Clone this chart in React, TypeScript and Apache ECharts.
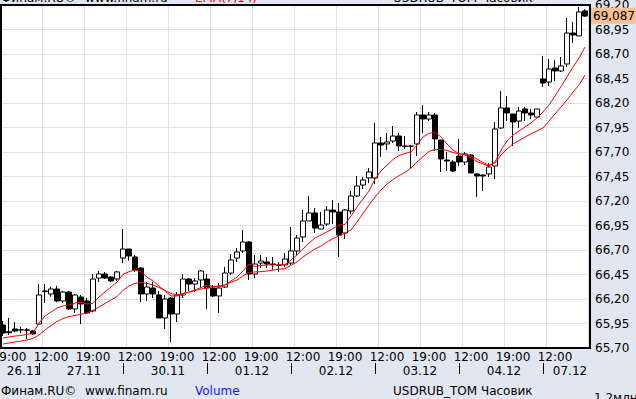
import React, { useEffect, useRef } from "react";
import * as echarts from "echarts";

// ---- categories (hourly candles, MOEX session 10:00-23:00) ----
const dayDates = ["26.11", "27.11", "30.11", "01.12", "02.12", "03.12", "04.12", "07.12"];
const dayFirstHour = [18, 10, 10, 10, 10, 10, 10, 10];
const dayLastHour = [23, 23, 23, 23, 23, 23, 23, 17];
const timeLabels = ["12:00", "19:00"];

// ---- price axis tick labels ----
const yTickLabels = [
  "65,70", "65,95", "66,20", "66,45", "66,70", "66,95", "67,20", "67,45",
  "67,70", "67,95", "68,20", "68,45", "68,70", "68,95", "69,20",
];
const yMin = 65.7;
const yMax = 69.2;

// ---- OHLC ----
const opens = [
  65.935, 65.866, 65.894, 65.886, 65.884, 65.874, 65.945, 66.277, 66.251, 66.302,
  66.180, 66.271, 66.098, 66.220, 66.180, 66.078, 66.414, 66.455, 66.424, 66.404,
  66.618, 66.710, 66.629, 66.516, 66.251, 66.312, 66.241, 66.006, 66.210, 66.047,
  66.241, 66.404, 66.353, 66.394, 66.404, 66.312, 66.231, 66.322, 66.465, 66.618,
  66.690, 66.782, 66.455, 66.567, 66.578, 66.557, 66.547, 66.547, 66.567, 66.690,
  66.833, 66.996, 67.078, 66.914, 66.965, 67.108, 67.088, 66.873, 67.098, 67.251,
  67.363, 67.435, 67.435, 67.792, 67.782, 67.812, 67.863, 67.761, 67.761, 67.782,
  68.078, 68.037, 68.078, 67.822, 67.618, 67.598, 67.659, 67.598, 67.669, 67.476,
  67.465, 67.476, 67.557, 67.945, 68.149, 68.088, 68.016, 68.139, 68.098, 68.057,
  68.445, 68.414, 68.557, 68.527, 68.598, 68.914, 68.884, 69.139,
];
const closes = [
  65.853, 65.856, 65.873, 65.884, 65.882, 65.843, 66.241, 66.282, 66.302, 66.180,
  66.271, 66.098, 66.241, 66.149, 66.057, 66.404, 66.455, 66.414, 66.384, 66.476,
  66.710, 66.639, 66.496, 66.251, 66.322, 66.251, 66.006, 66.200, 66.047, 66.241,
  66.404, 66.353, 66.384, 66.486, 66.312, 66.231, 66.312, 66.465, 66.598, 66.680,
  66.782, 66.455, 66.557, 66.588, 66.557, 66.552, 66.545, 66.608, 66.690, 66.822,
  66.996, 67.078, 66.924, 66.955, 67.108, 67.088, 66.853, 67.108, 67.251, 67.353,
  67.414, 67.496, 67.792, 67.771, 67.802, 67.863, 67.761, 67.758, 67.759, 68.078,
  68.037, 68.078, 67.833, 67.629, 67.608, 67.506, 67.598, 67.680, 67.486, 67.455,
  67.455, 67.547, 67.935, 68.149, 68.098, 68.006, 68.118, 68.098, 68.078, 68.139,
  68.404, 68.547, 68.527, 68.578, 68.914, 68.894, 69.129, 69.087,
];
const highs = [
  65.976, 66.006, 65.965, 65.917, 65.904, 65.884, 66.353, 66.353, 66.326, 66.336,
  66.282, 66.282, 66.251, 66.241, 66.210, 66.455, 66.486, 66.476, 66.435, 66.486,
  66.914, 66.710, 66.649, 66.527, 66.373, 66.373, 66.282, 66.241, 66.220, 66.271,
  66.455, 66.414, 66.414, 66.496, 66.455, 66.343, 66.363, 66.527, 66.659, 66.720,
  66.904, 66.792, 66.649, 66.649, 66.629, 66.629, 66.578, 66.669, 66.935, 66.853,
  67.108, 67.251, 67.129, 67.088, 67.149, 67.210, 67.180, 67.118, 67.302, 67.455,
  67.445, 67.537, 67.996, 67.853, 67.894, 67.965, 67.894, 67.863, 67.771, 68.108,
  68.180, 68.108, 68.098, 67.822, 67.700, 67.618, 67.833, 67.700, 67.680, 67.486,
  67.470, 67.588, 68.006, 68.322, 68.271, 68.088, 68.159, 68.159, 68.139, 68.139,
  68.680, 68.649, 68.639, 68.669, 69.067, 69.027, 69.180, 69.159,
];
const lows = [
  65.822, 65.833, 65.860, 65.850, 65.792, 65.833, 65.935, 66.159, 66.223, 66.166,
  66.159, 66.088, 66.057, 65.945, 66.047, 66.067, 66.373, 66.404, 66.373, 66.384,
  66.567, 66.592, 66.476, 66.169, 66.180, 66.210, 66.006, 65.894, 65.761, 65.965,
  66.210, 66.282, 66.271, 66.312, 66.098, 66.220, 66.057, 66.312, 66.445, 66.578,
  66.669, 66.394, 66.414, 66.516, 66.516, 66.496, 66.476, 66.527, 66.547, 66.649,
  66.782, 66.996, 66.873, 66.914, 66.945, 66.965, 66.629, 66.812, 67.067, 67.241,
  67.322, 67.384, 67.373, 67.649, 67.720, 67.792, 67.710, 67.730, 67.527, 67.659,
  67.894, 68.016, 67.710, 67.496, 67.506, 67.496, 67.557, 67.567, 67.486, 67.241,
  67.302, 67.445, 67.424, 67.935, 68.016, 67.761, 67.945, 68.016, 68.037, 68.057,
  68.363, 68.373, 68.424, 68.516, 68.567, 68.812, 68.884, 69.078,
];

// ---- moving averages ----
const maFast = [
  65.802, 65.812, 65.822, 65.828, 65.838, 65.853, 65.955, 66.027, 66.067, 66.108,
  66.129, 66.139, 66.159, 66.166, 66.149, 66.156, 66.220, 66.271, 66.322, 66.373,
  66.452, 66.479, 66.496, 66.476, 66.424, 66.384, 66.333, 66.282, 66.231, 66.231,
  66.251, 66.271, 66.292, 66.317, 66.343, 66.328, 66.322, 66.343, 66.384, 66.424,
  66.486, 66.557, 66.532, 66.542, 66.547, 66.547, 66.547, 66.552, 66.598, 66.649,
  66.710, 66.771, 66.822, 66.853, 66.884, 66.919, 66.955, 66.960, 67.047, 67.139,
  67.220, 67.302, 67.424, 67.506, 67.567, 67.623, 67.664, 67.685, 67.700, 67.771,
  67.853, 67.889, 67.904, 67.853, 67.782, 67.720, 67.685, 67.669, 67.639, 67.603,
  67.578, 67.557, 67.598, 67.720, 67.812, 67.873, 67.914, 67.955, 67.996, 68.047,
  68.108, 68.180, 68.271, 68.368, 68.465, 68.567, 68.659, 68.771,
];
const maSlow = [
  65.741, 65.751, 65.761, 65.771, 65.782, 65.797, 65.833, 65.884, 65.930, 65.970,
  66.001, 66.021, 66.032, 66.044, 66.057, 66.083, 66.118, 66.154, 66.190, 66.226,
  66.287, 66.333, 66.360, 66.366, 66.360, 66.343, 66.317, 66.287, 66.256, 66.241,
  66.256, 66.271, 66.287, 66.302, 66.312, 66.326, 66.333, 66.343, 66.373, 66.394,
  66.435, 66.472, 66.476, 66.479, 66.486, 66.496, 66.503, 66.511, 66.542, 66.578,
  66.629, 66.669, 66.710, 66.741, 66.782, 66.817, 66.843, 66.873, 66.904, 66.986,
  67.072, 67.159, 67.241, 67.312, 67.373, 67.419, 67.460, 67.491, 67.537, 67.598,
  67.654, 67.705, 67.726, 67.726, 67.715, 67.695, 67.680, 67.675, 67.659, 67.629,
  67.593, 67.567, 67.588, 67.669, 67.731, 67.782, 67.817, 67.853, 67.884, 67.914,
  67.945, 68.016, 68.088, 68.159, 68.231, 68.312, 68.384, 68.486,
];

const FONT = "DejaVu Sans";
const BG = "#e1e7f0";
const GRID = "#dce3ee";

const categories: string[] = [];
const dayStart: number[] = [];
const dayMid: number[] = [];
dayDates.forEach((d, k) => {
  const n = dayLastHour[k] - dayFirstHour[k] + 1;
  dayStart.push(categories.length);
  dayMid.push(categories.length + Math.round(n / 2));
  for (let h = dayFirstHour[k]; h <= dayLastHour[k]; h++) {
    categories.push(`${d} ${String(h).padStart(2, "0")}:00`);
  }
});

const fmt = (v: number, d: number) => v.toFixed(d).replace(".", ",");

export default function App() {
  const ref = useRef<HTMLDivElement>(null);
  useEffect(() => {
    if (!ref.current) return;
    const chart = echarts.init(ref.current, undefined, { renderer: "svg" });
    const ohlc = opens.map((o, i) => [o, closes[i], lows[i], highs[i]]);
    const lastClose = closes[closes.length - 1];
    const txt = (text: string, x: number, y: number, fill = "#000") => ({
      type: "text",
      x,
      y,
      silent: true,
      z: 50,
      style: { text, fill, font: `12px "${FONT}"`, verticalAlign: "top", align: "left" },
    });
    chart.setOption({
      animation: false,
      backgroundColor: BG,
      textStyle: { fontFamily: FONT, fontSize: 12 },
      grid: {
        left: 0,
        top: 5,
        width: 588,
        height: 343,
        show: false,
        containLabel: false,
        outerBoundsMode: "none",
      },
      xAxis: [
        {
          type: "category",
          data: categories,
          boundaryGap: true,
          position: "bottom",
          axisLine: { show: false },
          axisTick: { show: false },
          axisLabel: {
            interval: (_i: number, v: string) => timeLabels.includes(v.slice(6)),
            formatter: (v: string) => v.slice(6),
            margin: 3,
            color: "#000",
            fontSize: 12,
            fontFamily: FONT,
          },
          splitLine: {
            show: true,
            interval: (i: number) => i > 0 && i % 7 === 0,
            lineStyle: { color: GRID, width: 1 },
          },
        },
        {
          type: "category",
          data: categories,
          boundaryGap: true,
          position: "bottom",
          offset: 15,
          axisLine: { show: false },
          axisTick: {
            show: true,
            alignWithLabel: true,
            interval: (i: number) => dayStart.includes(i) && i > 0,
            length: 11,
            lineStyle: { color: "#000", width: 1 },
          },
          axisLabel: {
            interval: (i: number) => dayMid.includes(i),
            formatter: (v: string) => v.slice(0, 5),
            margin: 2,
            padding: [0, 0, 0, 6],
            color: "#000",
            fontSize: 12,
            fontFamily: FONT,
          },
          splitLine: { show: false },
        },
      ],
      yAxis: [
        { type: "value", min: yMin, max: yMax, show: false, splitLine: { show: false } },
        {
          type: "category",
          data: yTickLabels,
          boundaryGap: false,
          position: "right",
          axisLine: { show: false },
          axisTick: { show: false },
          axisLabel: { interval: 0, margin: 7, color: "#000", fontSize: 12, fontFamily: FONT },
          splitLine: { show: true, lineStyle: { color: GRID, width: 1 } },
        },
      ],
      series: [
        {
          type: "candlestick",
          xAxisIndex: 0,
          yAxisIndex: 0,
          data: ohlc,
          barWidth: 5,
          itemStyle: {
            color: "#ffffff",
            color0: "#000000",
            borderColor: "#000000",
            borderColor0: "#000000",
            borderColorDoji: "#000000",
            borderWidth: 1,
          },
          emphasis: { disabled: true },
          markLine: {
            silent: true,
            symbol: ["none", "none"],
            data: [{ yAxis: lastClose }],
            lineStyle: { color: "rgba(0,0,0,0)", width: 0 },
            label: {
              show: true,
              position: "end",
              distance: 2,
              formatter: fmt(lastClose, 3),
              backgroundColor: "#f9bf95",
              color: "#000",
              padding: [2, 4, 2, 3],
              fontSize: 12,
              fontFamily: FONT,
            },
          },
        },
        {
          type: "line",
          xAxisIndex: 0,
          yAxisIndex: 0,
          data: maFast,
          symbol: "none",
          lineStyle: { color: "#ff0000", width: 1 },
          emphasis: { disabled: true },
        },
        {
          type: "line",
          xAxisIndex: 0,
          yAxisIndex: 0,
          data: maSlow,
          symbol: "none",
          lineStyle: { color: "#ff0000", width: 1 },
          emphasis: { disabled: true },
        },
      ],
      graphic: [
        {
          type: "rect",
          z: -10,
          silent: true,
          shape: { x: 0, y: 4, width: 590, height: 345 },
          style: { fill: "#ffffff" },
        },
        {
          type: "rect",
          z: 100,
          silent: true,
          shape: { x: 1, y: 5, width: 589, height: 343 },
          style: { fill: "none", stroke: "#000", lineWidth: 2 },
        },
        txt("Финам.RU©", 1, -8),
        txt("www.finam.ru", 85, -8),
        txt("EMA(7,14)", 195, -8, "#ff0000"),
        txt("USDRUB_TOM Часовик", 393, -8),
        txt("Финам.RU©", 1, 385),
        txt("www.finam.ru", 85, 385),
        txt("Volume", 195, 385, "#1414ff"),
        txt("USDRUB_TOM Часовик", 393, 385),
        txt("1,2млн", 594, 392),
      ],
    });
    return () => chart.dispose();
  }, []);
  return (
    <div
      ref={ref}
      style={{ position: "fixed", left: 0, top: 0, width: 636, height: 399, background: BG }}
    />
  );
}
